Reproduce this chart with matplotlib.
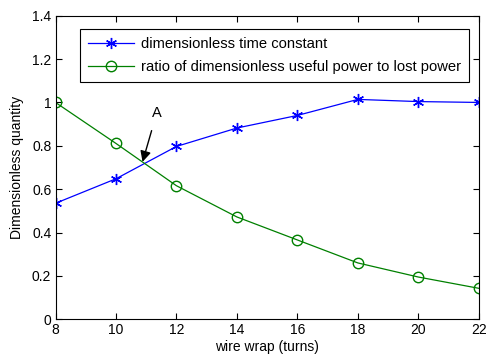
import matplotlib
matplotlib.use("Agg")
import matplotlib.pyplot as plt

plt.rcParams["font.family"] = ["Liberation Sans", "DejaVu Sans"]

wire_wrap = [8, 10, 12, 14, 16, 18, 20, 22]
time_constant = [0.535, 0.648, 0.797, 0.882, 0.940, 1.014, 1.004, 1.000]
power_ratio = [1.000, 0.811, 0.616, 0.472, 0.366, 0.260, 0.195, 0.143]

fig = plt.figure(figsize=(4.86, 3.6), dpi=100)
ax = fig.add_axes([55.5 / 486, 1 - 319.3 / 360, 423.2 / 486, 303.6 / 360])

ax.plot(wire_wrap, time_constant, color="#0000ff", marker=(6, 2, 0), ms=8, mew=1.0, lw=0.9,
        label="dimensionless time constant")
ax.plot(wire_wrap, power_ratio, color="#008000", marker="o", ms=7.5, mfc="none", lw=0.9,
        label="ratio of dimensionless useful power to lost power")

ax.annotate("A", xy=(10.88, 0.726), xytext=(11.35, 0.952), ha="center", va="center",
            fontsize=10.5,
            arrowprops=dict(arrowstyle="-|>", color="black", lw=1.0,
                            mutation_scale=16, shrinkA=6, shrinkB=0))

ax.set_xlim(8, 22)
ax.set_ylim(0, 1.4)
ax.set_xticks(wire_wrap)
ax.set_yticks([0, 0.2, 0.4, 0.6, 0.8, 1.0, 1.2, 1.4])
ax.set_yticklabels(["0", "0.2", "0.4", "0.6", "0.8", "1", "1.2", "1.4"])
ax.tick_params(direction="in", top=True, right=True, labelsize=10, length=4, pad=3)
ax.set_xlabel("wire wrap (turns)", fontsize=10, labelpad=2)
ax.set_ylabel("Dimensionless quantity", fontsize=10, labelpad=6)

leg = ax.legend(loc="upper left", bbox_to_anchor=(0.058, 0.955), fontsize=10.6,
                fancybox=False, edgecolor="black", framealpha=1,
                handlelength=3.1, handletextpad=0.5, borderpad=0.55, labelspacing=0.6,
                borderaxespad=0)
leg.get_frame().set_linewidth(0.8)

fig.savefig("out.png", dpi=100)
